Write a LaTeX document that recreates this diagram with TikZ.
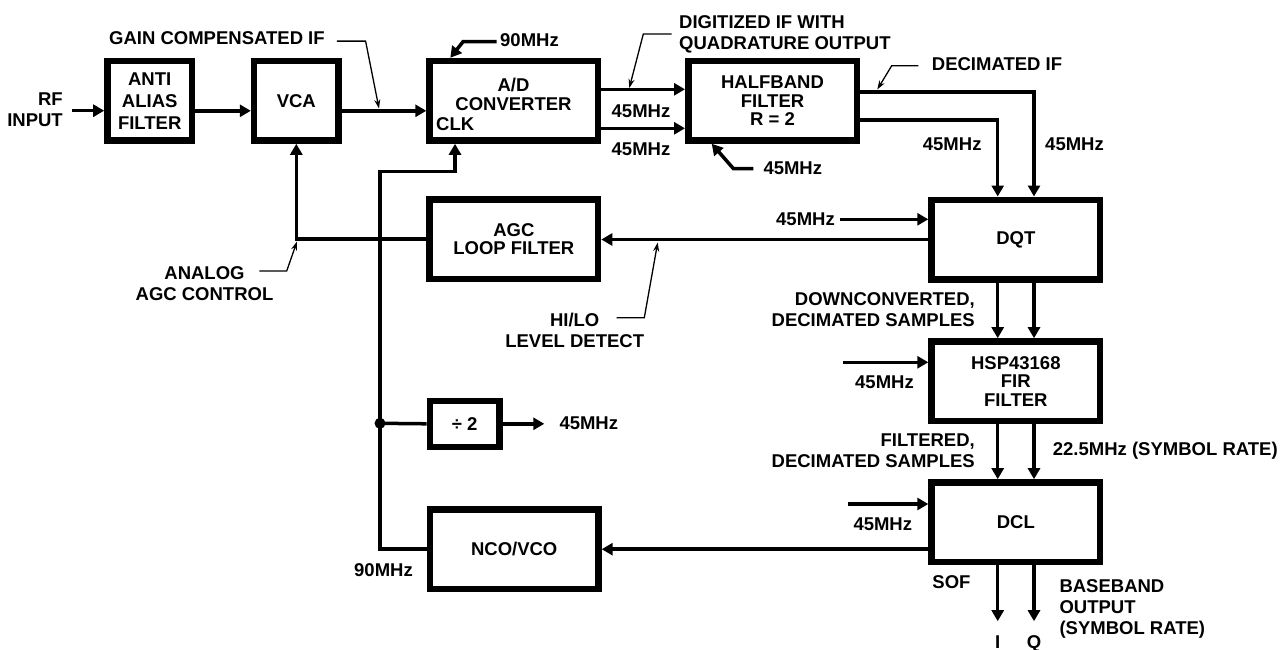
\documentclass[tikz,border=0pt]{standalone}
\usepackage{fontspec}
\setmainfont{Liberation Sans}
\usetikzlibrary{arrows.meta,calc}

\newcommand{\lblfont}{\fontsize{18.5}{21}\selectfont\bfseries}
\newcommand{\boxfont}{\fontsize{18.5}{18.5}\selectfont\bfseries}

\begin{document}
\begin{tikzpicture}[x=1pt,y=-1pt,
  blk/.style={draw, line width=6.5pt, inner sep=0pt, minimum width=168.5pt, minimum height=79.5pt, align=center, font=\boxfont},
  smallblk/.style={blk, minimum width=84.5pt},
  sig/.style={line width=3.5pt, -{Triangle[length=11pt,width=12pt]}},
  wire/.style={line width=3.5pt},
  lead/.style={line width=1.3pt, -{Stealth[length=9pt,width=6pt]}},
  lbl/.style={inner sep=0pt, font=\lblfont}]
\useasboundingbox (0,0) rectangle (1287,650);

\node[smallblk, font=\fontsize{18.5}{22}\selectfont\bfseries] (aaf) at (149.7,100.8) {ANTI\\ALIAS\\FILTER};
\node[smallblk] (vca) at (296.3,100.8) {VCA};
\node[blk] (adc) at (513.8,100.8) {};
\node[blk] (hbf) at (772.5,100.8) {HALFBAND\\FILTER\\R = 2};
\node[blk] (agc) at (513.8,239.2) {AGC\\LOOP FILTER};
\node[blk] (dqt) at (1015.8,239.5) {DQT};
\node[blk] (fir) at (1015.8,381.2) {HSP43168\\FIR\\FILTER};
\node[blk] (dcl) at (1015.8,522.2) {DCL};
\node[blk, minimum width=69.5pt, minimum height=46pt] (div) at (464.7,423.8) {÷ 2};
\node[blk] (nco) at (514.2,549.2) {NCO/VCO};
\node[circle, fill, inner sep=0pt, minimum size=11pt] (split) at (380,423.3) {};

\node[lbl, align=center, anchor=north, font=\boxfont] (adcname) at (513.5,78) {A/D\\CONVERTER};
\node[lbl, anchor=base west] (clk) at (436,130.7) {CLK};

\node[lbl, align=right, anchor=north east] (rfin) at (63,93) {RF\\INPUT};
\node[lbl, anchor=base west] (gain) at (109,45) {GAIN COMPENSATED IF};
\node[lbl, anchor=base west] (clkA) at (500,46.7) {90MHz};
\node[lbl, align=left, anchor=north west] (digit) at (679,15) {DIGITIZED IF WITH\\QUADRATURE OUTPUT};
\node[lbl, anchor=base west] (decif) at (931.7,71) {DECIMATED IF};
\node[lbl, anchor=base] (fsA) at (641,117.3) {45MHz};
\node[lbl, anchor=base] (fsB) at (641,155) {45MHz};
\node[lbl, anchor=base west] (fsC) at (763.3,174) {45MHz};
\node[lbl, anchor=base east] (fsD) at (981.7,150.7) {45MHz};
\node[lbl, anchor=base west] (fsE) at (1045,150.7) {45MHz};
\node[lbl, anchor=base east] (fsF) at (835,225.7) {45MHz};
\node[lbl, align=center, anchor=north] (analog) at (204.5,266) {ANALOG\\AGC CONTROL};
\node[lbl, align=center, anchor=north] (hilo) at (574.7,313.3) {HI/LO\\LEVEL DETECT};
\node[lbl, align=right, anchor=north east] (downc) at (975,292) {DOWNCONVERTED,\\DECIMATED SAMPLES};
\node[lbl, anchor=base west] (fsG) at (855,388.3) {45MHz};
\node[lbl, anchor=base west] (fsH) at (559.3,429) {45MHz};
\node[lbl, align=right, anchor=north east] (filt) at (975,433.8) {FILTERED,\\DECIMATED SAMPLES};
\node[lbl, anchor=base west] (symb) at (1052.7,455) {22.5MHz (SYMBOL RATE)};
\node[lbl, anchor=base west] (fsI) at (853.3,530) {45MHz};
\node[lbl, anchor=base west] (clkB) at (354,576.7) {90MHz};
\node[lbl, anchor=base east] (sof) at (970.7,588.3) {SOF};
\node[lbl, align=left, anchor=north west] (bband) at (1059.3,579.8) {BASEBAND\\OUTPUT\\(SYMBOL RATE)};
\node[lbl, anchor=base] (iout) at (997.7,648) {I};
\node[lbl, anchor=base] (qout) at (1034,648) {Q};

\coordinate (rfstart) at (72,110.7);
\coordinate (dqtclk) at (840,219.3);
\coordinate (firclk) at (843.3,362.3);
\coordinate (dclclk) at (848,504);
\coordinate (gainpt) at (379,108.5);
\coordinate (digitpt) at (629.3,88);
\coordinate (decpt) at (877.3,89.5);
\coordinate (analogpt) at (297,241.5);
\coordinate (hilopt) at (657.7,242.5);

\draw[sig] (rfstart) -- (rfstart -| aaf.west);
\draw[sig] ($(aaf.east)+(0,10)$) -- ($(vca.west)+(0,10)$);
\draw[sig] ($(vca.east)+(0,10)$) -- ($(adc.west)+(0,10)$);
\draw[sig] ($(adc.east)+(0,-11.5)$) -- ($(hbf.west)+(0,-11.5)$);
\draw[sig] ($(adc.east)+(0,27.5)$) -- ($(hbf.west)+(0,27.5)$);
\draw[sig] ($(hbf.east)+(0,-9)$) -| ($(dqt.north)+(18.2,0)$);
\draw[sig] ($(hbf.east)+(0,19.2)$) -| ($(dqt.north)+(-18.1,0)$);
\draw[sig] (dqtclk) -- (dqtclk -| dqt.west);
\draw[sig] (dqt.west) -- (dqt.west -| agc.east);
\draw[sig] (agc.west) -| (vca.south);
\draw[sig] ($(dqt.south)+(-18.1,0)$) -- ($(fir.north)+(-18.1,0)$);
\draw[sig] ($(dqt.south)+(18.2,0)$) -- ($(fir.north)+(18.2,0)$);
\draw[sig] (firclk) -- (firclk -| fir.west);
\draw[sig] ($(fir.south)+(-18.1,0)$) -- ($(dcl.north)+(-18.1,0)$);
\draw[sig] ($(fir.south)+(18.2,0)$) -- ($(dcl.north)+(18.2,0)$);
\draw[sig] (dclclk) -- (dclclk -| dcl.west);
\draw[sig] (nco.east -| dcl.west) -- (nco.east);
\draw[sig] ($(dcl.south)+(-18.1,0)$) -- ++(0,56);
\draw[sig] ($(dcl.south)+(18.2,0)$) -- ++(0,56);
\draw[sig] (nco.west) -| (split.center) |- ($(adc.south)+(-58.8,27.7)$) -- ($(adc.south)+(-58.8,0)$);
\draw[wire] (split.center) -- (div.west);
\draw[sig] (div.east) -- ++(41.6,0);
\draw[sig] ($(clkA.west)+(-3.3,1.4)$) -- ++(-33.7,0) -- ($(adc.north west)+(24,0)$);
\draw[sig] ($(fsC.west)+(-10,0.8)$) -- ++(-20,0) -- ($(hbf.south west)+(26.7,0)$);

\draw[lead] ($(gain.east)+(12,2.5)$) -- ++(28.7,0) -- (gainpt);
\draw[lead] ($(digit.west)+(-7.3,0)$) -- ++(-28.4,0) -- (digitpt);
\draw[lead] ($(decif.west)+(-13.4,1.1)$) -- ++(-26.6,0) -- (decpt);
\draw[lead] ($(analog.north)+(54.8,5)$) -- ++(27.4,0) -- (analogpt);
\draw[lead] ($(hilo.north)+(42,4.4)$) -- ++(27.6,0) -- (hilopt);
\end{tikzpicture}
\end{document}
